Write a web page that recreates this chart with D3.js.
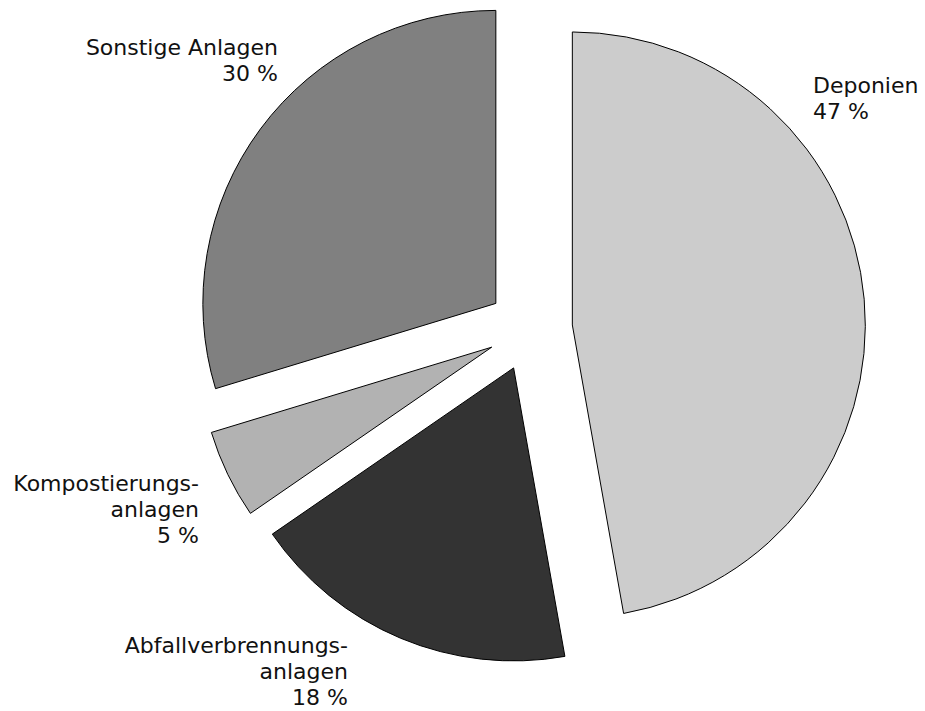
<!DOCTYPE html>
<html><head><meta charset="utf-8">
<script src="https://cdn.jsdelivr.net/npm/d3@7"></script>
<style>body{margin:0;background:#fff}svg{display:block}text{font-family:"DejaVu Sans",sans-serif;font-size:22px;fill:#111}</style>
</head><body><svg id="c" width="925" height="711"></svg>
<script>
const categories = ["Deponien", "Abfallverbrennungsanlagen", "Kompostierungsanlagen", "Sonstige Anlagen"];
const values = [47.2, 18.2, 4.9, 29.7];
const labelLines = [["Deponien", "47 %"], ["Abfallverbrennungs-", "anlagen", "18 %"], ["Kompostierungs-", "anlagen", "5 %"], ["Sonstige Anlagen", "30 %"]];
const colors = ["#cccccc", "#333333", "#b2b2b2", "#808080"];

const svg = d3.select("#c");
const cx = 530, cy = 328.7, r = 293, explode = 42.5;
const pie = d3.pie().sort(null).value(d => d)(values);
const arc = d3.arc().innerRadius(0).outerRadius(r);
const g = svg.append("g").attr("transform", `translate(${cx},${cy})`);
g.selectAll("path").data(pie).join("path")
  .attr("d", arc)
  .attr("fill", (d, i) => colors[i])
  .attr("stroke", "#000").attr("stroke-width", 1)
  .attr("transform", d => {
    const a = (d.startAngle + d.endAngle) / 2;
    return `translate(${explode * Math.sin(a)},${-explode * Math.cos(a)})`;
  });

// label anchor layout: [x, first baseline, anchor]
const labelPos = [[813, 93, "start"], [348, 653, "end"], [199, 491, "end"], [278, 55, "end"]];
const lh = 26.2;
labelLines.forEach((lines, i) => {
  const [x, y, anchor] = labelPos[i];
  const t = svg.append("text").attr("text-anchor", anchor);
  lines.forEach((s, j) => t.append("tspan").attr("x", x).attr("y", y + j * lh).text(s));
});
</script></body></html>
